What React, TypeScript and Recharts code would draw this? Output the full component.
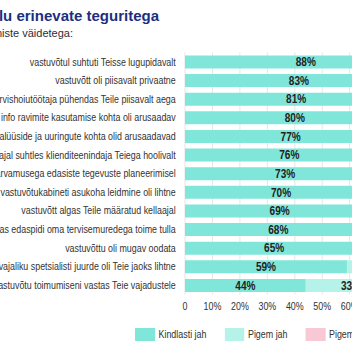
import React from "react";
import { BarChart, Bar, XAxis, YAxis, CartesianGrid, LabelList } from "recharts";

const categories = [
  "vastuvõtul suhtuti Teisse lugupidavalt",
  "vastuvõtt oli piisavalt privaatne",
  "tervishoiutöötaja pühendas Teile piisavalt aega",
  "Teile antud info ravimite kasutamise kohta oli arusaadav",
  "selgitused analüüside ja uuringute kohta olid arusaadavad",
  "registreerumise ajal suhtles klienditeenindaja Teiega hoolivalt",
  "arvestati Teie arvamusega edasiste tegevuste planeerimisel",
  "vastuvõtukabineti asukoha leidmine oli lihtne",
  "vastuvõtt algas Teile määratud kellaajal",
  "saite teadmisi, kuidas edaspidi oma tervisemuredega toime tulla",
  "vastuvõttu oli mugav oodata",
  "pääsemine vajaliku spetsialisti juurde oli Teie jaoks lihtne",
  "ooteaeg vastuvõtu toimumiseni vastas Teie vajadustele",
];
const kindlastiJah = [88, 83, 81, 80, 77, 76, 73, 70, 69, 68, 65, 59, 44];
const pigemJah = [10, 14, 16, 17, 19, 20, 22, 25, 24, 25, 28, 33, 33];
const pigemEi = [1, 2, 2, 2, 3, 3, 3, 3, 5, 5, 5, 6, 15];
const kindlastiEi = [1, 1, 1, 1, 1, 1, 2, 2, 2, 2, 2, 2, 8];
const xTicks = [0, 10, 20, 30, 40, 50, 60, 70, 80, 90, 100];

const series = [
  { key: "kj", name: "Kindlasti jah", color: "#80e6d9", values: kindlastiJah },
  { key: "pj", name: "Pigem jah", color: "#b4f2ea", values: pigemJah },
  { key: "pe", name: "Pigem ei", color: "#f9c8d5", values: pigemEi },
  { key: "ke", name: "Kindlasti ei", color: "#f08aa6", values: kindlastiEi },
];

const data = categories.map((name, i) => {
  const row: any = { name };
  series.forEach((s) => (row[s.key] = s.values[i]));
  return row;
});

const FONT = "'Liberation Sans', Arial, sans-serif";
const SX = 0.84; // horizontal condensing of the chart text (narrow font look)

const YTick = (props: any) => {
  const { x, y, payload } = props;
  return (
    <text x={x} y={y} dy="0.355em" textAnchor="end" fontSize={10.6} fill="#333" fontFamily={FONT}>
      {payload.value}
    </text>
  );
};

export default function App() {
  const yw = 300;
  const plotW = 274.5 / SX;
  return (
    <div
      style={{
        position: "fixed",
        left: 0,
        top: 0,
        width: 352,
        height: 352,
        overflow: "hidden",
        background: "#fff",
        fontFamily: FONT,
      }}
    >
      <div
        style={{
          position: "absolute",
          right: 193,
          top: 6.5,
          width: "max-content",
          whiteSpace: "nowrap",
          fontSize: 15,
          lineHeight: "18px",
          fontWeight: "bold",
          color: "#1b2f80",
        }}
      >
        Rahulolu erinevate teguritega
      </div>
      <div
        style={{
          position: "absolute",
          right: 279,
          top: 25.5,
          width: "max-content",
          whiteSpace: "nowrap",
          fontSize: 11,
          lineHeight: "14px",
          color: "#2b2d3b",
        }}
      >
        Kuivõrd nõustute järgmiste väidetega:
      </div>
      <div
        style={{
          position: "absolute",
          left: 184.5 - yw * SX,
          top: 0,
          transform: `scaleX(${SX})`,
          transformOrigin: "0 0",
        }}
      >
        <BarChart
          width={yw + plotW + 10}
          height={352}
          data={data}
          layout="vertical"
          margin={{ top: 52.5, right: 10, bottom: 27.5, left: 0 }}
          barSize={13}
        >
          <CartesianGrid horizontal={false} vertical={true} stroke="#e4e4e4" />
          <XAxis
            type="number"
            domain={[0, 100]}
            ticks={xTicks}
            interval={0}
            axisLine={false}
            tickLine={false}
            tickFormatter={(v: number) => (v === 0 ? "0" : v + "%")}
            tick={{ fontSize: 10.6, fill: "#333", fontFamily: FONT }}
          />
          <YAxis
            type="category"
            dataKey="name"
            width={yw}
            interval={0}
            axisLine={false}
            tickLine={false}
            tickMargin={5}
            tick={<YTick />}
          />
          {series.map((s) => (
            <Bar key={s.key} dataKey={s.key} name={s.name} stackId="a" fill={s.color} isAnimationActive={false}>
              <LabelList
                dataKey={s.key}
                position="center"
                formatter={(v: any) => v + "%"}
                style={{ fontSize: 12, fontWeight: "bold", fill: "#222", fontFamily: FONT }}
              />
            </Bar>
          ))}
        </BarChart>
      </div>
      <div
        style={{
          position: "absolute",
          left: 135,
          top: 328,
          display: "flex",
          alignItems: "center",
          whiteSpace: "nowrap",
          fontSize: 10.6,
          color: "#333",
          transform: `scaleX(${SX})`,
          transformOrigin: "0 0",
        }}
      >
        {series.map((s) => (
          <div key={s.key} style={{ display: "flex", alignItems: "center", marginRight: 18 / SX }}>
            <div style={{ width: 20 / SX, height: 13, background: s.color, marginRight: 3.5 / SX }} />
            <span style={{ lineHeight: "13px" }}>{s.name}</span>
          </div>
        ))}
      </div>
    </div>
  );
}
